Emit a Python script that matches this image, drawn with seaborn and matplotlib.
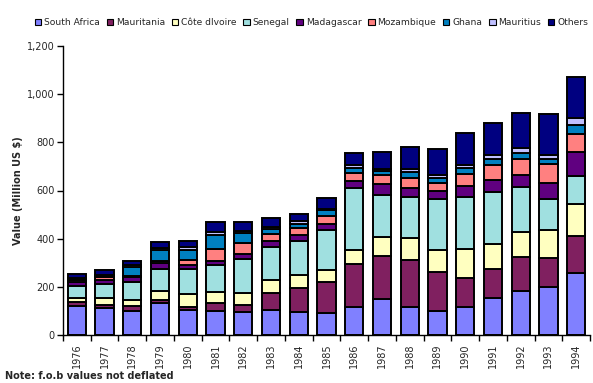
import matplotlib
matplotlib.use('Agg')
import matplotlib.pyplot as plt
from matplotlib.patches import Patch
from matplotlib.ticker import FuncFormatter, FixedLocator
import numpy as np
import pandas as pd
import seaborn as sns

# ─── Data (Million US $, f.o.b) ─────────────────────────────────
years = list(range(1976, 1995))
countries = ['South Africa', 'Mauritania', 'Côte dIvoire', 'Senegal', 'Madagascar',
             'Mozambique', 'Ghana', 'Mauritius', 'Others']

south_africa = [122, 111, 101, 134, 102, 100, 97, 104, 97, 91, 116, 149, 117, 100, 116, 155, 183, 199, 259]
mauritania   = [16, 14, 21, 11, 14, 33, 26, 69, 97, 127, 180, 180, 196, 163, 122, 120, 141, 122, 153]
cote_divoire = [17, 27, 25, 39, 56, 47, 53, 55, 56, 52, 57, 79, 89, 91, 120, 104, 102, 115, 132]
senegal      = [49, 60, 74, 91, 102, 111, 140, 139, 139, 165, 257, 173, 172, 211, 216, 215, 190, 130, 116]
madagascar   = [15, 18, 20, 23, 17, 17, 22, 23, 26, 26, 29, 46, 38, 34, 46, 51, 50, 66, 101]
mozambique   = [8, 10, 5, 10, 21, 51, 43, 30, 29, 34, 34, 37, 41, 34, 48, 62, 66, 77, 75]
ghana        = [6, 6, 38, 45, 41, 56, 41, 21, 18, 22, 22, 16, 22, 20, 25, 22, 25, 20, 35]
mauritius    = [4, 4, 5, 8, 11, 11, 10, 9, 10, 7, 10, 11, 15, 10, 13, 18, 21, 18, 29]
others       = [16, 20, 18, 24, 26, 44, 38, 34, 29, 43, 49, 67, 92, 108, 131, 132, 142, 169, 170]

series = [south_africa, mauritania, cote_divoire, senegal, madagascar,
          mozambique, ghana, mauritius, others]
colors = ['#8080FF', '#802060', '#FFFFC0', '#A0E0E0', '#600080',
          '#FF8080', '#0080C0', '#C0C0FF', '#000080']

df = pd.DataFrame({
    'year': np.repeat([years], len(countries), axis=0).ravel(),
    'country': np.repeat(countries, len(years)),
    'value': np.concatenate(series),
})

# ─── Plot ──────────────────────────────────────────────────────
sns.set_style('white')
plt.rcParams['font.family'] = ['DejaVu Sans']

fig = plt.figure(figsize=(5.93, 3.83), dpi=100)
ax = fig.add_axes([63 / 593, 48 / 383, 527 / 593, 289 / 383])

# seaborn stacks the first hue level on top, so feed the order reversed
sns.histplot(
    data=df, x='year', weights='value', hue='country',
    hue_order=countries[::-1], palette=colors[::-1],
    multiple='stack', discrete=True, shrink=0.66,
    edgecolor='black', linewidth=1.4, alpha=1, legend=False, ax=ax,
)

ax.set_xlim(years[0] - 0.5, years[-1] + 0.5)
ax.set_ylim(0, 1200)
ax.set_yticks(range(0, 1201, 200))
ax.yaxis.set_major_formatter(FuncFormatter(lambda v, _: f'{int(v):,}'))

# ticks between categories, labels at centres
ax.xaxis.set_major_locator(FixedLocator([y - 0.5 for y in years] + [years[-1] + 0.5]))
ax.xaxis.set_major_formatter(FuncFormatter(lambda v, _: ''))
ax.xaxis.set_minor_locator(FixedLocator(years))
ax.set_xticklabels([str(y) for y in years], minor=True, rotation=90, fontsize=7)
ax.tick_params(axis='x', which='major', direction='out', length=4, width=1, color='black', bottom=True)
ax.tick_params(axis='x', which='minor', length=0, pad=6)
ax.tick_params(axis='y', direction='out', length=4, width=1, color='black', left=True, labelsize=7, pad=2)

for side in ['top', 'right']:
    ax.spines[side].set_visible(False)
for side in ['left', 'bottom']:
    ax.spines[side].set_color('black')
    ax.spines[side].set_linewidth(1)

ax.set_xlabel('')
ax.set_ylabel('Value (Million US $)', fontsize=7, fontweight='bold', labelpad=3)
ax.grid(False)

handles = [Patch(facecolor=c, edgecolor='black', linewidth=0.8) for c in colors]
fig.legend(handles, countries, loc='upper center', bbox_to_anchor=(0.525, 0.962),
           ncol=9, frameon=False, fontsize=6.6, handlelength=0.7, handleheight=0.7,
           handletextpad=0.3, columnspacing=0.75, borderaxespad=0)

fig.text(5 / 593, 1 - 376 / 383, 'Note: f.o.b values not deflated', fontsize=7,
         fontweight='bold', va='center', ha='left')

fig.savefig('out.png', dpi=100)
